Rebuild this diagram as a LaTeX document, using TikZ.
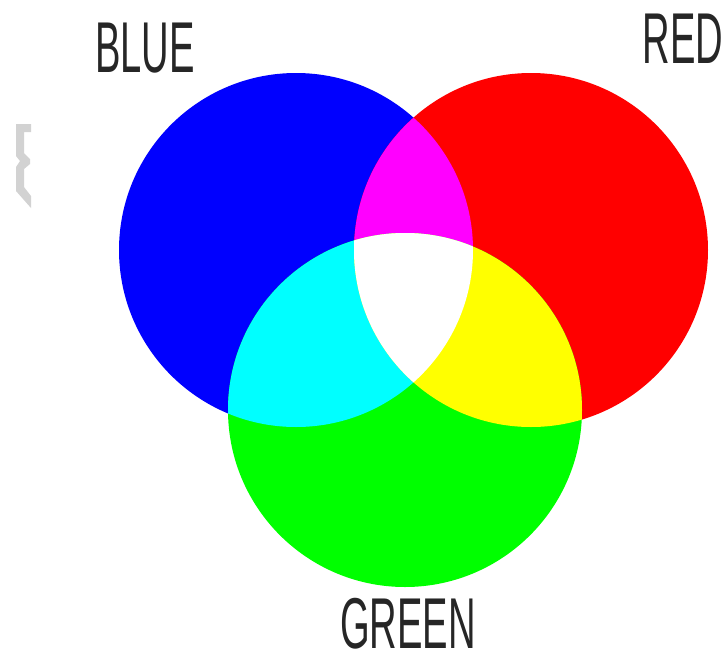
\documentclass[tikz,border=0pt]{standalone}
\usepackage{fontspec}
\usepackage{xcolor}
\usepackage{tikz}
\newfontfamily\labelfont[FakeStretch=0.53]{Liberation Sans}
\definecolor{rgbblue}{RGB}{0,0,255}
\definecolor{rgbred}{RGB}{255,0,0}
\definecolor{rgbgreen}{RGB}{0,255,0}
\definecolor{rgbcyan}{RGB}{0,255,255}
\definecolor{rgbmagenta}{RGB}{255,0,255}
\definecolor{rgbyellow}{RGB}{255,255,0}
\definecolor{markgray}{RGB}{210,210,210}
\def\bluedisc{(296,250) circle (177)}
\def\reddisc{(531,250) circle (177)}
\def\greendisc{(405,410) circle (177)}
\tikzset{
  colorlabel/.style={anchor=base, inner sep=0pt, text=black!85,
    font=\labelfont\fontsize{72}{72}\selectfont}
}
\begin{document}
\begin{tikzpicture}[x=1pt, y=-1pt]
        \useasboundingbox (0,0) rectangle (724,654);
        % grauer Rest am linken Rand
        \fill[markgray] (16,124) -- (31,124) -- (31,132) -- (24,132) -- (24,153)
            -- (30,159) -- (30,164) -- (24,169) -- (24,187) -- (31,196)
            -- (31,208) -- (16,191) -- (16,167) -- (20,161) -- (16,156) -- cycle;

        % Grundfarben
        \fill[rgbblue] \bluedisc;
        \fill[rgbred] \reddisc;
        \fill[rgbgreen] \greendisc;

        % Mischfarben aus je zwei Kreisen
        \begin{scope}
            \clip \bluedisc;
            \fill[rgbmagenta] \reddisc;
            \fill[rgbcyan] \greendisc;
        \end{scope}
        \begin{scope}
            \clip \reddisc;
            \fill[rgbyellow] \greendisc;
        \end{scope}

        % alle drei ergeben weiss
        \begin{scope}
            \clip \bluedisc;
            \clip \reddisc;
            \fill[white] \greendisc;
        \end{scope}

        % Beschriftung
        \node[colorlabel] (bluelabel) at (145,72) {BLUE};
        \node[colorlabel] (redlabel) at (683,63) {RED};
        \node[colorlabel] (greenlabel) at (408,648) {GREEN};
    \end{tikzpicture}
\end{document}
